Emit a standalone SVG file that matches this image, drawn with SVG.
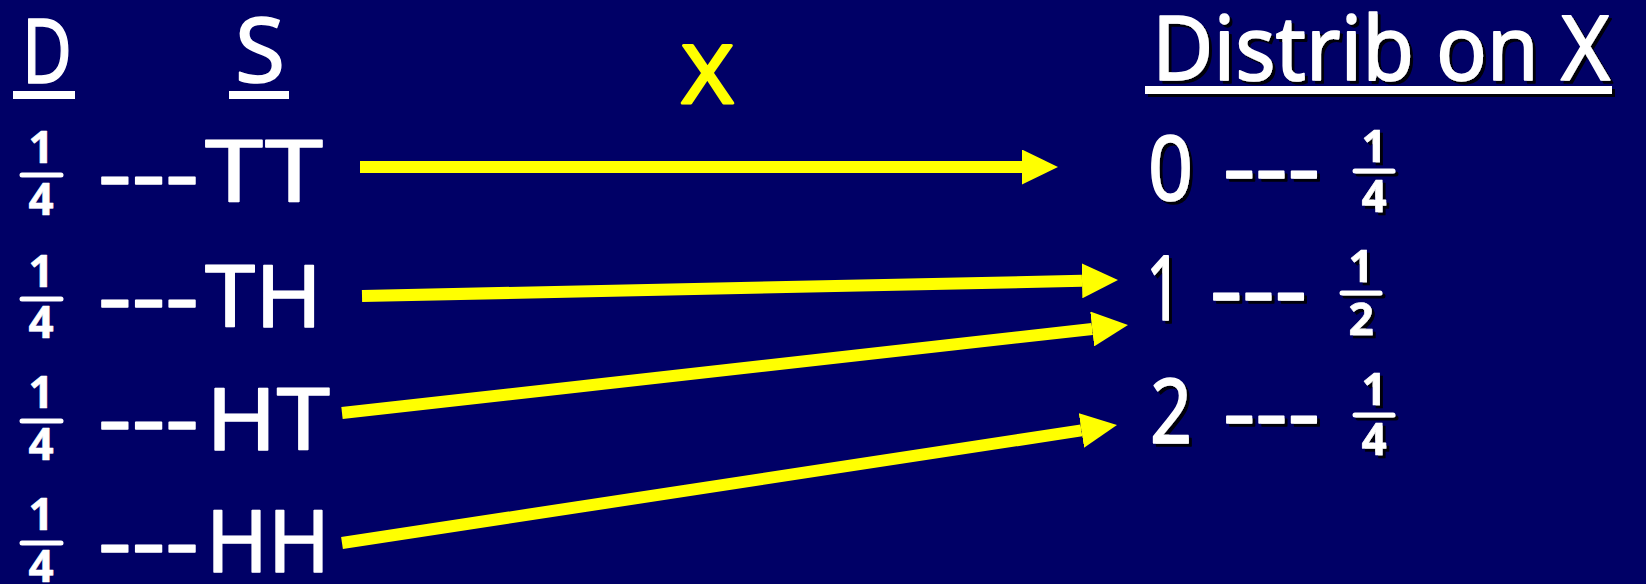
<svg xmlns="http://www.w3.org/2000/svg" width="1646" height="584" viewBox="0 0 1646 584">
<defs>
<style>
.t{font-family:"Noto Sans","DejaVu Sans",sans-serif;fill:#fff;stroke:#fff;stroke-width:1.6;stroke-linejoin:round;}
.big{font-size:90px;}
.dash{font-size:86px;}
.fr{font-size:44px;font-weight:bold;text-anchor:middle;stroke-width:0.6;}
.bar{stroke:#fff;stroke-width:5;stroke-linecap:round;}
.ul{fill:#fff;}
.arr{stroke:#ffff00;stroke-width:12;fill:none;}
.yx{fill:#ffff00;stroke:#ffff00;stroke-width:3;font-size:80px;}
</style>
<filter id="sh" x="-5%" y="-5%" width="115%" height="130%">
<feDropShadow dx="3" dy="3" stdDeviation="0.6" flood-color="#000" flood-opacity="0.9"/>
</filter>
<marker id="ah" viewBox="0 0 36 35" markerWidth="36" markerHeight="35" markerUnits="userSpaceOnUse" refX="0" refY="17.5" orient="auto">
<path d="M0,0 L36,17.5 L0,35 z" fill="#ffff00"/>
</marker>
</defs>
<rect width="1646" height="584" fill="#000066"/>

<g id="header-D">
<text class="t big" x="22" y="83" textLength="50" lengthAdjust="spacingAndGlyphs">D</text>
<rect class="ul" x="13" y="91" width="62" height="8"/>
</g>
<g id="header-S">
<text class="t big" x="235" y="82" textLength="50" lengthAdjust="spacingAndGlyphs">S</text>
<rect class="ul" x="229" y="91" width="60" height="8"/>
</g>
<g id="header-X">
<text class="t yx" x="682" y="103" textLength="51" lengthAdjust="spacingAndGlyphs">X</text>
</g>
<g id="header-distrib" filter="url(#sh)">
<text class="t big" x="1152" y="80" textLength="458" lengthAdjust="spacingAndGlyphs">Distrib on X</text>
<rect class="ul" x="1145" y="86" width="467" height="8"/>
</g>

<g id="row-TT">
<text class="t fr" x="41" y="163">1</text>
<line class="bar" x1="22" y1="175" x2="61" y2="175"/>
<text class="t fr" x="41" y="215">4</text>
<text class="t dash" x="98" y="204" textLength="101" lengthAdjust="spacingAndGlyphs">---</text>
<text class="t dash" x="205" y="202" textLength="118" lengthAdjust="spacingAndGlyphs">TT</text>
</g>
<g id="row-TH">
<text class="t fr" x="41" y="287">1</text>
<line class="bar" x1="22" y1="299" x2="61" y2="299"/>
<text class="t fr" x="41" y="338">4</text>
<text class="t dash" x="98" y="327" textLength="101" lengthAdjust="spacingAndGlyphs">---</text>
<text class="t dash" x="205" y="327" textLength="117" lengthAdjust="spacingAndGlyphs">TH</text>
</g>
<g id="row-HT">
<text class="t fr" x="41" y="408">1</text>
<line class="bar" x1="22" y1="421" x2="61" y2="421"/>
<text class="t fr" x="41" y="460">4</text>
<text class="t dash" x="98" y="449" textLength="101" lengthAdjust="spacingAndGlyphs">---</text>
<text class="t dash" x="206" y="450" textLength="124" lengthAdjust="spacingAndGlyphs">HT</text>
</g>
<g id="row-HH">
<text class="t fr" x="41" y="530">1</text>
<line class="bar" x1="22" y1="543" x2="61" y2="543"/>
<text class="t fr" x="41" y="582">4</text>
<text class="t dash" x="98" y="572" textLength="101" lengthAdjust="spacingAndGlyphs">---</text>
<text class="t dash" x="206" y="572" textLength="124" lengthAdjust="spacingAndGlyphs">HH</text>
</g>

<g id="x0" filter="url(#sh)">
<text class="t big" x="1148" y="200" textLength="45" lengthAdjust="spacingAndGlyphs">0</text>
<text class="t dash" x="1223" y="198" textLength="97" lengthAdjust="spacingAndGlyphs">---</text>
<text class="t fr" x="1374" y="162">1</text>
<line class="bar" x1="1355" y1="171" x2="1393" y2="171"/>
<text class="t fr" x="1374" y="212">4</text>
</g>
<g id="x1" filter="url(#sh)">
<text class="t big" x="1146" y="320" textLength="36" lengthAdjust="spacingAndGlyphs">1</text>
<text class="t dash" x="1210" y="320" textLength="97" lengthAdjust="spacingAndGlyphs">---</text>
<text class="t fr" x="1361" y="282">1</text>
<line class="bar" x1="1342" y1="293" x2="1380" y2="293"/>
<text class="t fr" x="1361" y="335">2</text>
</g>
<g id="x2" filter="url(#sh)">
<text class="t big" x="1150" y="443" textLength="42" lengthAdjust="spacingAndGlyphs">2</text>
<text class="t dash" x="1223" y="443" textLength="97" lengthAdjust="spacingAndGlyphs">---</text>
<text class="t fr" x="1374" y="405">1</text>
<line class="bar" x1="1355" y1="415" x2="1393" y2="415"/>
<text class="t fr" x="1374" y="455">4</text>
</g>

<g id="connectors">
<line class="arr" x1="360" y1="167" x2="1022" y2="167" marker-end="url(#ah)"/>
<line class="arr" x1="362" y1="296" x2="1082" y2="280.8" marker-end="url(#ah)"/>
<line class="arr" x1="342" y1="413" x2="1092.2" y2="329" marker-end="url(#ah)"/>
<line class="arr" x1="342" y1="543" x2="1081.4" y2="430.4" marker-end="url(#ah)"/>
</g>
</svg>
